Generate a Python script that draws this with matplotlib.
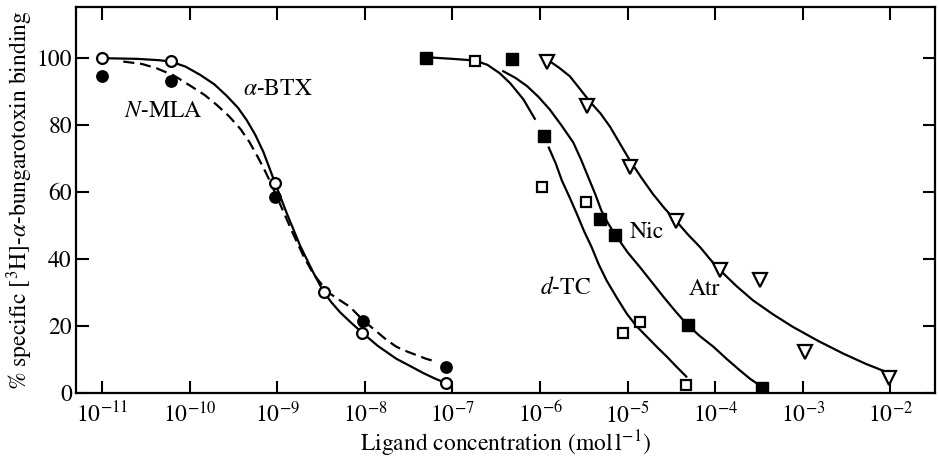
import numpy as np
import matplotlib
matplotlib.use("Agg")
import matplotlib.pyplot as plt

plt.rcParams["font.family"] = ["STIXGeneral", "DejaVu Serif"]
plt.rcParams["mathtext.fontset"] = "stix"

# measured data points (concentration in mol/l, % specific binding)
btx_x = 10 ** np.array([-11.0, -10.22, -9.03, -8.47, -8.03, -7.07])
btx_y = [100.0, 99.3, 62.6, 30.2, 18.0, 2.9]

mla_x = 10 ** np.array([-11.0, -10.22, -9.03, -8.02, -7.07])
mla_y = [94.8, 93.3, 58.4, 21.6, 7.8]

dtc_x = 10 ** np.array([-6.74, -5.98, -5.48, -5.05, -4.86, -4.33])
dtc_y = [99.3, 61.6, 56.9, 17.8, 21.2, 2.4]

nic_x = 10 ** np.array([-7.30, -6.32, -5.95, -5.32, -5.14, -4.31, -3.47])
nic_y = [100.0, 99.9, 76.8, 52.0, 47.2, 20.2, 1.4]

atr_x = 10 ** np.array([-5.92, -5.46, -4.97, -4.45, -3.95, -3.49, -2.97, -2.01])
atr_y = [98.8, 85.7, 67.4, 51.5, 36.8, 33.6, 12.3, 4.4]

# hand-drawn fit curves, sampled from the figure (log10 conc, %)
btx_curve_lx = [-10.99, -10.60, -10.35, -10.22, -10.05, -9.88, -9.72, -9.58, -9.45,
                -9.35, -9.25, -9.16, -9.03, -8.89, -8.74, -8.60, -8.47, -8.38,
                -8.28, -8.15, -8.03, -7.85, -7.64, -7.48, -7.33, -7.20, -7.07]
btx_curve_y = [100.0, 99.8, 99.4, 99.0, 97.5, 95.0, 92.2, 88.8, 85.2,
               81.5, 77.0, 72.0, 63.0, 53.5, 44.0, 36.5, 30.1, 27.0,
               24.0, 20.8, 18.0, 14.0, 10.2, 8.0, 5.9, 4.3, 2.9]

mla_curve_lx = [-10.76, -10.55, -10.38, -10.18, -9.99, -9.83, -9.69, -9.55, -9.42,
                -9.32, -9.23, -9.15, -9.08, -8.97, -8.82, -8.70, -8.59, -8.49,
                -8.40, -8.28, -8.17, -8.02, -7.86, -7.75, -7.64, -7.52, -7.41,
                -7.30, -7.18]
mla_curve_y = [99.0, 98.3, 97.0, 94.8, 91.7, 89.0, 86.0, 82.6, 78.8,
               75.0, 70.8, 66.8, 63.0, 56.5, 47.5, 40.8, 35.6, 32.3,
               29.7, 27.6, 25.7, 21.7, 18.2, 15.8, 13.8, 12.4, 11.3,
               10.2, 9.3]

dtc_curve_lx = [-7.24, -7.00, -6.74, -6.60, -6.46, -6.34, -6.19, -6.06, np.nan,
                -5.90, -5.82, -5.75, -5.66, -5.58, -5.50, -5.41, -5.33, -5.24,
                -5.12, -5.01, -4.90, -4.78, -4.66, -4.55, -4.44, -4.33]
dtc_curve_y = [100.2, 99.8, 99.3, 98.0, 95.5, 92.5, 87.7, 81.9, np.nan,
               73.3, 68.5, 63.4, 58.3, 53.5, 48.5, 43.5, 38.4, 33.6,
               28.3, 23.7, 20.0, 16.8, 13.6, 10.8, 7.8, 4.9]

nic_curve_lx = [-6.42, -6.28, -6.15, -6.02, -5.89, -5.76, -5.62, -5.53, -5.45,
                -5.37, -5.30, -5.23, -5.16, -5.08, -5.00, -4.86, -4.72, -4.59,
                -4.46, -4.33, -4.18, -4.02, -3.87, -3.72, -3.60, -3.47]
nic_curve_y = [96.1, 94.1, 91.7, 88.5, 84.7, 80.1, 74.8, 69.6, 64.5,
               59.4, 54.5, 51.0, 48.0, 45.0, 42.0, 37.6, 33.0, 28.7,
               24.6, 20.7, 17.1, 13.8, 10.2, 6.8, 4.2, 1.9]

atr_curve_lx = [-5.89, -5.78, -5.66, -5.55, -5.43, -5.31, -5.20, -5.09, -4.97,
                -4.84, -4.71, -4.58, -4.45, -4.31, -4.17, -4.06, -3.95, -3.76,
                -3.57, -3.34, -3.11, -2.82, -2.54, -2.28, -2.01]
atr_curve_y = [99.1, 97.1, 94.6, 91.0, 87.0, 83.5, 79.5, 74.6, 69.3,
               64.2, 59.4, 55.2, 51.5, 47.3, 43.5, 40.0, 36.8, 32.0,
               27.7, 23.5, 19.7, 15.5, 11.8, 8.7, 5.9]

fig = plt.figure(figsize=(9.39, 4.62), dpi=100)
ax = fig.add_axes([0.0809, 0.1494, 0.9148, 0.8355])

lw = 1.6
ax.plot(10 ** np.array(btx_curve_lx), btx_curve_y, color="black", lw=lw, zorder=2)
ax.plot(10 ** np.array(mla_curve_lx), mla_curve_y, color="black", lw=lw,
        dashes=(5, 2.6), zorder=2)
ax.plot(10 ** np.array(dtc_curve_lx), dtc_curve_y, color="black", lw=lw, zorder=2)
ax.plot(10 ** np.array(nic_curve_lx), nic_curve_y, color="black", lw=lw, zorder=2)
ax.plot(10 ** np.array(atr_curve_lx), atr_curve_y, color="black", lw=lw, zorder=2)

ax.plot(mla_x, mla_y, "o", ms=8, mfc="black", mec="black", mew=1.2, ls="none", zorder=3)
ax.plot(btx_x, btx_y, "o", ms=7.8, mfc="white", mec="black", mew=1.6, ls="none", zorder=4)
ax.plot(dtc_x, dtc_y, "s", ms=7, mfc="white", mec="black", mew=1.6, ls="none", zorder=4)
ax.plot(nic_x, nic_y, "s", ms=8, mfc="black", mec="black", mew=1.0, ls="none", zorder=4)
ax.plot(atr_x, atr_y, "v", ms=10, mfc="white", mec="black", mew=1.6, ls="none", zorder=4)

fs = 17
ax.text(10 ** -8.99, 90.8, r"$\alpha$-BTX", fontsize=fs, ha="center", va="center")
ax.text(10 ** -10.31, 84.2, r"$N$-MLA", fontsize=fs, ha="center", va="center")
ax.text(10 ** -4.78, 48.0, "Nic", fontsize=fs, ha="center", va="center")
ax.text(10 ** -5.71, 31.4, r"$d$-TC", fontsize=fs, ha="center", va="center")
ax.text(10 ** -4.12, 30.9, "Atr", fontsize=fs, ha="center", va="center")

ax.set_xscale("log")
ax.set_xlim(10 ** -11.30, 10 ** -1.49)
ax.set_ylim(0, 115.3)
ax.set_xticks([10.0 ** k for k in range(-11, -1)])
ax.set_yticks([0, 20, 40, 60, 80, 100])
ax.minorticks_off()
ax.tick_params(direction="in", length=9, width=1.5, top=True, right=True,
               labelsize=17, pad=6)
ax.tick_params(axis="y", pad=3)
for sp in ax.spines.values():
    sp.set_linewidth(1.6)

ax.set_xlabel(r"Ligand concentration (mol$\,$l$^{-1}$)", fontsize=17, labelpad=1)
ax.set_ylabel(r"% specific [$^3$H]-$\alpha$-bungarotoxin binding", fontsize=17, labelpad=1)

fig.savefig("out.png", dpi=100)
